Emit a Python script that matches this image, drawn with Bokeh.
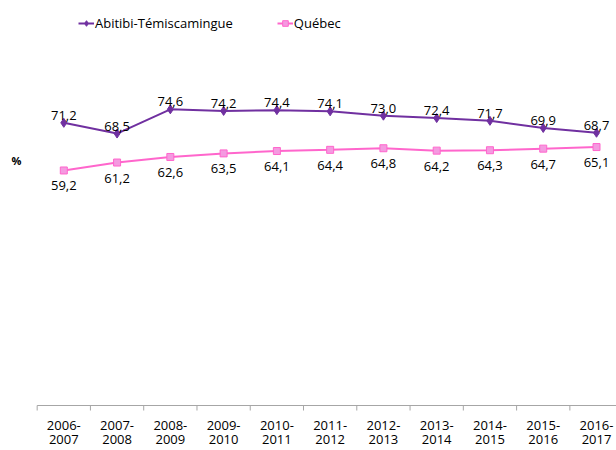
from bokeh.plotting import figure
from bokeh.models import Range1d, Legend, LegendItem, Label, ColumnDataSource, LabelSet
from bokeh.core.properties import value
from bokeh.embed import file_html
from bokeh.resources import INLINE

# ---- data ----
periods = ["2006-2007", "2007-2008", "2008-2009", "2009-2010", "2010-2011", "2011-2012",
           "2012-2013", "2013-2014", "2014-2015", "2015-2016", "2016-2017"]
abitibi = [71.2, 68.5, 74.6, 74.2, 74.4, 74.1, 73.0, 72.4, 71.7, 69.9, 68.7]
quebec = [59.2, 61.2, 62.6, 63.5, 64.1, 64.4, 64.8, 64.2, 64.3, 64.7, 65.1]

n = len(periods)
idx = list(range(n))
def fmt(v):
    return f"{v:.1f}".replace(".", ",")

src = ColumnDataSource(dict(
    x=idx, a=abitibi, q=quebec,
    al=[fmt(v) for v in abitibi], ql=[fmt(v) for v in quebec],
    t1=[s.split("-")[0] + "-" for s in periods],
    t2=[s.split("-")[1] for s in periods],
    z=[0] * n,
))

FONT = "Open Sans"
PURPLE = "#7030A0"
PINK = "#FF66CC"
AXIS = "#A6A6A6"

W, H = 616, 450
PX_PER_CAT = 53.27
PX_PER_UNIT = 3.97
X0_PX = 63.3      # pixel of first category centre
Y0_PX = 405       # pixel of value 0 (from top)
xs = -X0_PX / PX_PER_CAT
ys = -(H - Y0_PX) / PX_PER_UNIT

p = figure(width=W, height=H, output_backend="svg", toolbar_location=None,
           x_range=Range1d(xs, xs + W / PX_PER_CAT),
           y_range=Range1d(ys, ys + H / PX_PER_UNIT),
           min_border=0, min_border_left=0, min_border_right=0,
           min_border_top=0, min_border_bottom=0)
p.outline_line_color = None
p.xgrid.visible = False
p.ygrid.visible = False
p.xaxis.visible = False
p.yaxis.visible = False

# category axis drawn by hand
bounds = [i - 0.5 for i in range(n + 1)]
tick_len = 5 / PX_PER_UNIT
p.segment(x0=[bounds[0]], y0=[0], x1=[bounds[-1]], y1=[0], line_color=AXIS, line_width=1)
p.segment(x0=bounds, y0=[0] * len(bounds), x1=bounds, y1=[-tick_len] * len(bounds),
          line_color=AXIS, line_width=1)
p.add_layout(LabelSet(x="x", y="z", text="t1", source=src, text_align="center", text_baseline="top",
                      y_offset=-15, text_font=value(FONT), text_font_size="13px", text_color="#000000"))
p.add_layout(LabelSet(x="x", y="z", text="t2", source=src, text_align="center", text_baseline="top",
                      y_offset=-29, text_font=value(FONT), text_font_size="13px", text_color="#000000"))

la = p.line("x", "a", source=src, line_color=PURPLE, line_width=2)
sa = p.scatter("x", "a", source=src, marker="diamond", size=9, fill_color=PURPLE, line_color=PURPLE)
lq = p.line("x", "q", source=src, line_color=PINK, line_width=2)
sq = p.scatter("x", "q", source=src, marker="square", size=7, fill_color="#F49AE0", line_color=PINK)

p.add_layout(LabelSet(x="x", y="a", text="al", source=src, text_align="center", text_baseline="bottom",
                      y_offset=3, text_font=value(FONT), text_font_size="13px", text_color="#000000"))
p.add_layout(LabelSet(x="x", y="q", text="ql", source=src, text_align="center", text_baseline="top",
                      y_offset=-11, text_font=value(FONT), text_font_size="13px", text_color="#000000"))

p.add_layout(Label(x=xs + 16 / PX_PER_CAT, y=(Y0_PX - 160) / PX_PER_UNIT, text="%",
                   text_align="center", text_baseline="middle",
                   text_font=FONT, text_font_size="11px", text_font_style="bold",
                   text_color="#000000"))

legend = Legend(items=[LegendItem(label="Abitibi-Témiscamingue", renderers=[la, sa]),
                       LegendItem(label="Québec", renderers=[lq, sq])],
                orientation="horizontal", location=(78, 418), spacing=44,
                glyph_width=16, glyph_height=14, label_standoff=1, padding=0, margin=0,
                border_line_color=None, background_fill_alpha=0,
                label_text_font=FONT, label_text_font_size="13px", label_text_color="#000000")
p.add_layout(legend)

open("out.html", "w").write(file_html(p, INLINE))
